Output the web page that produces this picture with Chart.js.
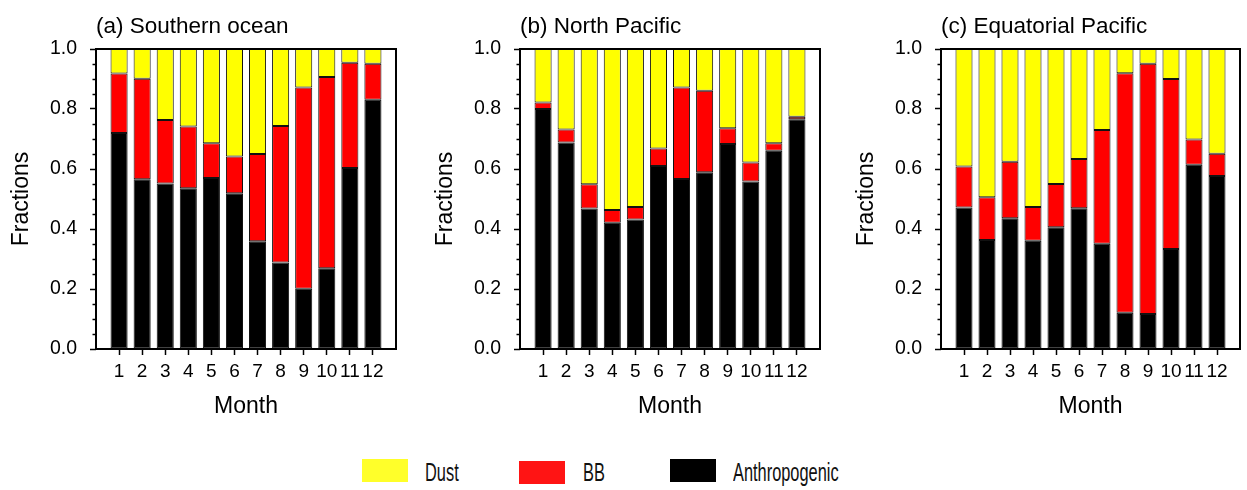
<!DOCTYPE html>
<html>
<head>
<meta charset="utf-8">
<script src="https://cdn.jsdelivr.net/npm/chart.js@4.4.1/dist/chart.umd.min.js"></script>
<style>
  body { margin: 0; background: #fff; }
  #wrap { position: relative; width: 1247px; height: 490px; overflow: hidden; font-family: "Liberation Sans", Arial, sans-serif; }
  #wrap canvas { position: absolute; top: 0; }
  .sw { position: absolute; width: 46px; height: 23px; }
  .lt { position: absolute; font-size: 26px; line-height: 26px; transform: scaleX(0.63); transform-origin: left center; color: #111; }
</style>
</head>
<body>
<div id="wrap">
  <canvas id="c1" width="410" height="430" style="left:0px"></canvas>
  <canvas id="c2" width="410" height="430" style="left:424px"></canvas>
  <canvas id="c3" width="402" height="430" style="left:845px"></canvas>

  <div class="sw" style="left:362px; top:459px; background:#ffff2a"></div>
  <div class="lt" style="left:425px; top:459px">Dust</div>
  <div class="sw" style="left:519px; top:461px; background:#ff1414"></div>
  <div class="lt" style="left:583px; top:459px">BB</div>
  <div class="sw" style="left:670px; top:459px; background:#000"></div>
  <div class="lt" style="left:733px; top:459px">Anthropogenic</div>
</div>

<script>
const months = [1, 2, 3, 4, 5, 6, 7, 8, 9, 10, 11, 12];

// (a) Southern ocean
const soAnthro = [0.720, 0.566, 0.552, 0.536, 0.570, 0.519, 0.359, 0.288, 0.201, 0.269, 0.603, 0.831];
const soBB     = [0.198, 0.335, 0.211, 0.206, 0.116, 0.123, 0.291, 0.455, 0.671, 0.638, 0.351, 0.120];
const soDust   = [0.082, 0.099, 0.237, 0.258, 0.314, 0.358, 0.350, 0.257, 0.128, 0.093, 0.046, 0.049];

// (b) North Pacific
const npAnthro = [0.800, 0.688, 0.468, 0.421, 0.432, 0.610, 0.567, 0.589, 0.683, 0.558, 0.661, 0.766];
const npBB     = [0.022, 0.044, 0.081, 0.042, 0.041, 0.058, 0.305, 0.272, 0.053, 0.064, 0.025, 0.008];
const npDust   = [0.178, 0.268, 0.451, 0.537, 0.527, 0.332, 0.128, 0.139, 0.264, 0.378, 0.314, 0.226];

// (c) Equatorial Pacific
const epAnthro = [0.472, 0.363, 0.436, 0.361, 0.406, 0.469, 0.351, 0.121, 0.117, 0.333, 0.614, 0.577];
const epBB     = [0.136, 0.143, 0.188, 0.112, 0.144, 0.164, 0.379, 0.798, 0.834, 0.567, 0.084, 0.074];
const epDust   = [0.392, 0.494, 0.376, 0.527, 0.450, 0.367, 0.270, 0.081, 0.049, 0.100, 0.302, 0.349];

const yTicks = [0.0, 0.2, 0.4, 0.6, 0.8, 1.0];

Chart.defaults.font.family = '"Liberation Sans", Arial, sans-serif';
Chart.defaults.color = '#000';

// frame around the plot + short minor ticks on the y axis
const framePlugin = {
    id: 'frame',
    afterDraw(chart) {
        const ctx = chart.ctx;
        const a = chart.chartArea;
        const y = chart.scales.y;
        ctx.save();
        ctx.strokeStyle = '#000';
        ctx.lineWidth = 1.5;
        for (let i = 1; i < 20; i++) {
            if (i % 4 === 0) continue;
            const py = Math.round(y.getPixelForValue(i / 20)) + 0.5;
            ctx.beginPath();
            ctx.moveTo(a.left - 3.5, py);
            ctx.lineTo(a.left, py);
            ctx.stroke();
        }
        ctx.lineWidth = 2;
        ctx.strokeRect(a.left, a.top, a.right - a.left, a.bottom - a.top);
        ctx.restore();
    }
};

function makePanel(id, title, anthro, bb, dust, padRight) {
    const ctx = document.getElementById(id).getContext('2d');
    const barStyle = {
        borderColor: '#111',
        borderWidth: 1,
        borderSkipped: false,
        barPercentage: 0.74,
        categoryPercentage: 1.0
    };
    return new Chart(ctx, {
        type: 'bar',
        data: {
            labels: months,
            datasets: [
                { label: 'Anthropogenic', data: anthro, backgroundColor: '#000000', ...barStyle },
                { label: 'BB', data: bb, backgroundColor: '#ff0000', ...barStyle },
                { label: 'Dust', data: dust, backgroundColor: '#ffff00', ...barStyle }
            ]
        },
        options: {
            responsive: false,
            animation: false,
            devicePixelRatio: 1,
            layout: { padding: { left: 0, right: padRight, top: 0, bottom: 0 } },
            plugins: {
                legend: { display: false },
                tooltip: { enabled: false },
                title: {
                    display: true,
                    text: title,
                    align: 'start',
                    fullSize: false,
                    color: '#000',
                    font: { size: 22.5, weight: 'normal', lineHeight: 1.2 },
                    padding: { top: 13, bottom: 9 }
                }
            },
            scales: {
                x: {
                    type: 'linear',
                    stacked: true,
                    min: 0,
                    max: 13,
                    offset: false,
                    border: { display: false },
                    grid: {
                        offset: false,
                        drawOnChartArea: false,
                        drawTicks: true,
                        tickLength: 6,
                        tickWidth: 1.5,
                        tickColor: (c) => (c.tick && c.tick.value >= 1 && c.tick.value <= 12) ? '#000' : 'rgba(0,0,0,0)'
                    },
                    ticks: {
                        stepSize: 1,
                        autoSkip: false,
                        maxRotation: 0,
                        padding: 5,
                        font: { size: 19 },
                        callback: (v) => (v >= 1 && v <= 12) ? String(v) : ''
                    },
                    title: {
                        display: true,
                        text: 'Month',
                        font: { size: 23 },
                        padding: { top: 0, bottom: 10 }
                    },
                    afterFit: (s) => { s.height = 81; }
                },
                y: {
                    stacked: true,
                    min: 0,
                    max: 1,
                    border: { display: false },
                    grid: {
                        drawOnChartArea: false,
                        drawTicks: true,
                        tickLength: 6,
                        tickWidth: 1.5,
                        tickColor: '#000'
                    },
                    afterBuildTicks: (s) => { s.ticks = yTicks.map(v => ({ value: v })); },
                    ticks: {
                        padding: 13,
                        font: { size: 19.5 },
                        callback: (v) => Number(v).toFixed(1)
                    },
                    title: {
                        display: true,
                        text: 'Fractions',
                        font: { size: 23 },
                        padding: { top: 8, bottom: 0 }
                    },
                    afterFit: (s) => { s.width = 96; }
                }
            }
        },
        plugins: [framePlugin]
    });
}

makePanel('c1', '(a) Southern ocean', soAnthro, soBB, soDust, 14);
makePanel('c2', '(b) North Pacific', npAnthro, npBB, npDust, 14);
makePanel('c3', '(c) Equatorial Pacific', epAnthro, epBB, epDust, 7);
</script>
</body>
</html>
